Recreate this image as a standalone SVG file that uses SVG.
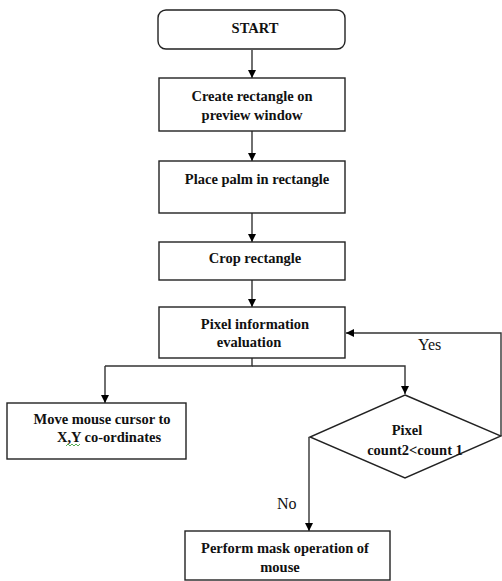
<svg xmlns="http://www.w3.org/2000/svg" width="502" height="581" viewBox="0 0 502 581">
<defs>
<marker id="ah" viewBox="0 0 10 10" refX="10" refY="5" markerWidth="8" markerHeight="8" markerUnits="userSpaceOnUse" orient="auto">
<path d="M0,0 L10,5 L0,10 Z" fill="#000"/>
</marker>
<style>
.box{fill:#fff;stroke:#222;stroke-width:1.4}
.t{font-family:"Liberation Serif","Times New Roman",serif;font-weight:bold;font-size:14.5px;fill:#111;text-anchor:middle}
.lbl{font-family:"Liberation Serif","Times New Roman",serif;font-size:16px;fill:#111}
.c{fill:none;stroke:#333;stroke-width:1.4}
.ca{fill:none;stroke:#333;stroke-width:1.4;marker-end:url(#ah)}
</style>
</defs>
<rect width="502" height="581" fill="#fff"/>
<g id="connectors">
<line class="ca" x1="252" y1="50" x2="252" y2="78"/>
<line class="ca" x1="252" y1="131" x2="252" y2="161"/>
<line class="ca" x1="252" y1="213" x2="252" y2="242"/>
<line class="ca" x1="252" y1="280" x2="252" y2="307"/>
<polyline class="c" points="252,358 252,366 105,366"/>
<line class="ca" x1="105" y1="366" x2="105" y2="403"/>
<polyline class="ca" points="252,366 405,366 405,394"/>
<polyline class="ca" points="501,436 501,333 346,333"/>
<line class="ca" x1="309" y1="437" x2="309" y2="531"/>
<text class="lbl" x="418" y="350">Yes</text>
<text class="lbl" x="277" y="509">No</text>
</g>
<g id="start">
<rect class="box" x="158" y="10" width="187" height="39" rx="8"/>
<text class="t" x="255" y="33">START</text>
</g>
<g id="create">
<rect class="box" x="159" y="78" width="186" height="53"/>
<text class="t" x="252" y="101">Create rectangle on</text>
<text class="t" x="252" y="120">preview window</text>
</g>
<g id="place">
<rect class="box" x="159" y="161" width="186" height="52"/>
<text class="t" x="257" y="184">Place palm in rectangle</text>
</g>
<g id="crop">
<rect class="box" x="159" y="242" width="186" height="38"/>
<text class="t" x="255" y="263">Crop rectangle</text>
</g>
<g id="pixelinfo">
<rect class="box" x="159" y="307" width="186" height="51"/>
<text class="t" x="255" y="329">Pixel information</text>
<text class="t" x="249" y="347">evaluation</text>
</g>
<g id="move">
<rect class="box" x="7" y="403" width="179" height="56"/>
<text class="t" x="102" y="424">Move mouse cursor to</text>
<text class="t" x="109" y="442">X,Y co-ordinates</text>
<path d="M66,446 l2,-2 l2,2 l2,-2 l2,2 l2,-2 l2,2 l2,-2" fill="none" stroke="#2a9a2a" stroke-width="0.8"/>
</g>
<g id="decision">
<polygon class="box" points="405,395 501,436 405,478 310,437"/>
<text class="t" x="407" y="435">Pixel</text>
<text class="t" x="415" y="455">count2&lt;count 1</text>
</g>
<g id="perform">
<rect class="box" x="185" y="531" width="205" height="49"/>
<text class="t" x="285" y="553">Perform mask operation of</text>
<text class="t" x="280" y="572">mouse</text>
</g>
</svg>
